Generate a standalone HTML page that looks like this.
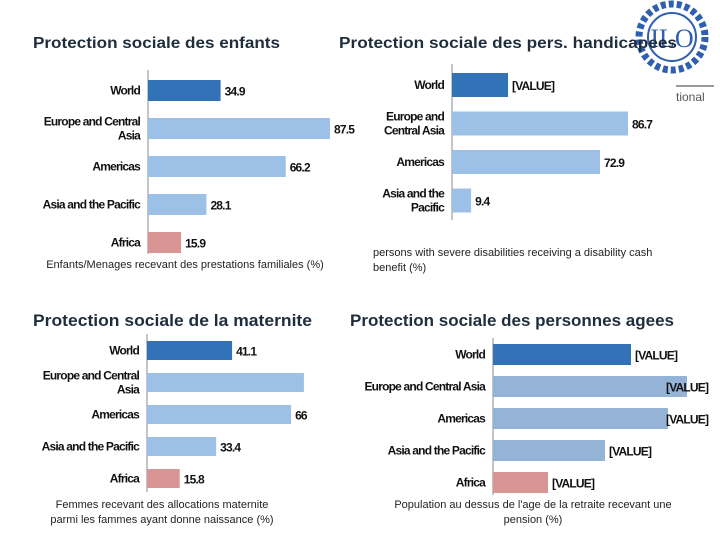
<!DOCTYPE html>
<html><head><meta charset="utf-8"><style>
html,body{margin:0;padding:0;background:#fff;}
svg{display:block;font-family:"Liberation Sans",sans-serif;}
</style></head><body>
<svg id="c" width="720" height="540" viewBox="0 0 720 540">
<g>
  <circle cx="672" cy="37" r="33" fill="none" stroke="#2f5fae" stroke-width="7" stroke-dasharray="5 3"/>
  <circle cx="672" cy="37" r="24" fill="#fff" stroke="#2f5fae" stroke-width="2"/>
  <text x="672" y="47" text-anchor="middle" font-family="Liberation Serif,serif" font-size="26" fill="#2f5fae">ILO</text>
</g>
<text x="676" y="101" font-size="12" fill="#555">tional</text>
<line x1="676" y1="86" x2="714" y2="86" stroke="#333" stroke-width="1"/>
<text x="33" y="48" font-size="16" font-weight="bold" fill="#1f2d3d" textLength="247" lengthAdjust="spacingAndGlyphs">Protection sociale des enfants</text>
<text x="339" y="48" font-size="16" font-weight="bold" fill="#1f2d3d" textLength="338" lengthAdjust="spacingAndGlyphs">Protection sociale des pers. handicapees</text>
<text x="33" y="326" font-size="17" font-weight="bold" fill="#1f2d3d" textLength="279" lengthAdjust="spacingAndGlyphs">Protection sociale de la maternite</text>
<text x="350" y="326" font-size="17" font-weight="bold" fill="#1f2d3d" textLength="324" lengthAdjust="spacingAndGlyphs">Protection sociale des personnes agees</text>
</svg>
<script>
const cats1=["World","Europe and Central|Asia","Americas","Asia and the Pacific","Africa"];
const vals1=[34.9,87.5,66.2,28.1,15.9];
const labs1=["34.9","87.5","66.2","28.1","15.9"];
const cats2=["World","Europe and|Central Asia","Americas","Asia and the|Pacific"];
const vals2=[27.6,86.7,72.9,9.4];
const labs2=["[VALUE]","86.7","72.9","9.4"];
const cats3=["World","Europe and Central|Asia","Americas","Asia and the Pacific","Africa"];
const vals3=[41.1,75.8,69.6,33.4,15.8];
const labs3=["41.1","","66","33.4","15.8"];
const cats4=["World","Europe and Central Asia","Americas","Asia and the Pacific","Africa"];
const vals4=[69,97,87.5,56,27.5];
const labs4=["[VALUE]","[VALUE]","[VALUE]","[VALUE]","[VALUE]"];
const svg=document.getElementById('c');
const NS='http://www.w3.org/2000/svg';
function mk(t,a){const e=document.createElementNS(NS,t);for(const k in a)e.setAttribute(k,a[k]);svg.appendChild(e);return e;}
function chart(id,cats,vals,labs,o){
  const x=v=>o.ax+v*o.scale;
  const ax=mk('line',{x1:o.ax,y1:o.y0,x2:o.ax,y2:o.y1,stroke:'#888','stroke-width':1});
  
  
  cats.forEach((c,i)=>{
    const top=o.top+i*o.pitch;
    let fill=i===0?'#3273b8':'#9dc0e6';
    if(o.alt&&i>0)fill='#95b3d7';
    if(c==='Africa')fill='#d99594';
    const r=mk('rect',{x:o.ax,y:top,width:Math.max(0,x(vals[i])-o.ax),height:o.bh,fill:fill});
    
    
    const cy=top+o.bh/2;
    const lines=c.split('|');
    lines.forEach((ln,j)=>{
      const t=mk('text',{x:o.ax-8,y:cy+4+(j-(lines.length-1)/2)*14,'text-anchor':'end','font-size':12,'font-weight':'bold',fill:'#111','letter-spacing':'-0.8'});
      t.textContent=ln;
      
      
    });
    if(labs[i]){
      let lx=x(vals[i])+4;
      if(o.labMax&&lx>o.labMax)lx=o.labMax;
      const vt=mk('text',{x:lx,y:cy+5,'font-size':12,'font-weight':'bold',fill:'#111','letter-spacing':'-0.8'});
      vt.textContent=labs[i];
      
      
    }
  });
  o.cap.forEach((ln,j)=>{
    const t=mk('text',{x:o.capX,y:o.capY+j*15,'text-anchor':o.capA,'font-size':11,fill:'#222'});
    t.textContent=ln;
    
    
  });
}
chart('children',cats1,vals1,labs1,{ax:148,scale:2.08,top:80,pitch:38,bh:21,y0:70,y1:254,cap:["Enfants/Menages recevant des prestations familiales (%)"],capX:185,capY:268,capA:'middle'});
chart('disability',cats2,vals2,labs2,{ax:452,scale:2.03,top:73,pitch:38.5,bh:24,y0:64,y1:220,cap:["persons with severe disabilities receiving a disability cash","benefit (%)"],capX:373,capY:256,capA:'start'});
chart('maternity',cats3,vals3,labs3,{ax:147,scale:2.07,top:341,pitch:32,bh:19,y0:334,y1:492,cap:["Femmes recevant des allocations maternite","parmi les fammes ayant donne naissance (%)"],capX:162,capY:508,capA:'middle'});
chart('elderly',cats4,vals4,labs4,{ax:493,scale:2,top:344,pitch:32,bh:21,y0:338,y1:495,alt:true,labMax:666,cap:["Population au dessus de l'age de la retraite recevant une","pension (%)"],capX:533,capY:508,capA:'middle'});
</script>
</body></html>
